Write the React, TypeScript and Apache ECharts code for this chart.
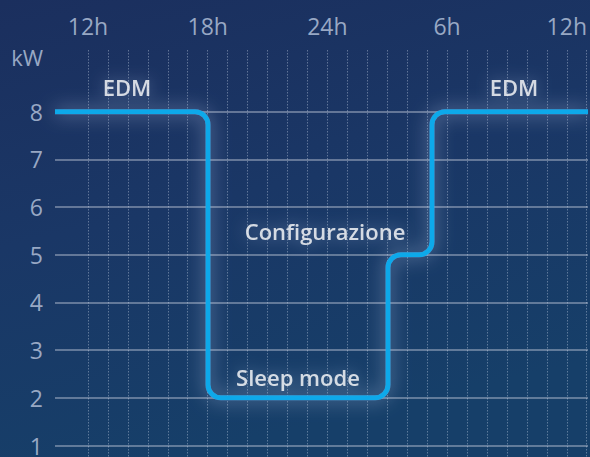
import React, { useEffect, useRef } from "react";
import * as echarts from "echarts";

// Top time axis
const hourTickValues = [0, 6, 12, 18, 24];
const hourTickLabels = ["12h", "18h", "24h", "6h", "12h"];

// Power axis ticks (kW)
const kwTicks = [1, 2, 3, 4, 5, 6, 7, 8];

// Power profile (hours after 12h, kW)
const profileHours = [-1.65, 6, 6, 15, 15, 17.2, 17.2, 25];
const profileKw = [8, 8, 2, 2, 5, 5, 8, 8];

// Annotations
const noteTexts = ["EDM", "Configurazione", "Sleep mode", "EDM"];
const noteHours = [1.95, 11.85, 10.5, 21.3];
const noteKw = [8.52, 5.5, 2.44, 8.52];

const FONT = "'Open Sans', Roboto, 'DejaVu Sans', sans-serif";

export default function App() {
  const ref = useRef<HTMLDivElement>(null);

  useEffect(() => {
    if (!ref.current) return;
    const chart = echarts.init(ref.current, null, { renderer: "svg" });

    const roundedPath = (pts: number[][], r: number) => {
      let d = `M${pts[0][0]},${pts[0][1]}`;
      for (let i = 1; i < pts.length - 1; i++) {
        const p = pts[i];
        const a = pts[i - 1];
        const b = pts[i + 1];
        const d1 = Math.hypot(p[0] - a[0], p[1] - a[1]);
        const d2 = Math.hypot(b[0] - p[0], b[1] - p[1]);
        if (d1 < 0.01 || d2 < 0.01) continue;
        const rr = Math.min(r, d1 / 2, d2 / 2);
        const s = [p[0] + ((a[0] - p[0]) / d1) * rr, p[1] + ((a[1] - p[1]) / d1) * rr];
        const e = [p[0] + ((b[0] - p[0]) / d2) * rr, p[1] + ((b[1] - p[1]) / d2) * rr];
        const k = 0.552;
        const c1 = [s[0] + (p[0] - s[0]) * k, s[1] + (p[1] - s[1]) * k];
        const c2 = [e[0] + (p[0] - e[0]) * k, e[1] + (p[1] - e[1]) * k];
        d += ` L${s[0]},${s[1]} C${c1[0]},${c1[1]} ${c2[0]},${c2[1]} ${e[0]},${e[1]}`;
      }
      const last = pts[pts.length - 1];
      d += ` L${last[0]},${last[1]}`;
      return d;
    };

    const option: any = {
      animation: false,
      backgroundColor: {
        type: "linear",
        x: 0,
        y: 0,
        x2: 0.3,
        y2: 1,
        colorStops: [
          { offset: 0, color: "#1b2f5e" },
          { offset: 0.5, color: "#1a3766" },
          { offset: 1, color: "#163f69" },
        ],
      },
      graphic: [
        {
          type: "text",
          x: 43,
          y: 57,
          style: {
            text: "kW",
            fill: "#98a8c4",
            font: `22px ${FONT}`,
            textAlign: "right",
            textVerticalAlign: "middle",
          },
        },
      ],
      grid: [
        { left: 55, right: 2, top: 64, bottom: 9 },
        { left: 88, right: 2, top: 50, bottom: 0 },
      ],
      xAxis: [
        {
          type: "value",
          gridIndex: 0,
          min: -1.65,
          max: 25,
          show: false,
        },
        {
          type: "value",
          gridIndex: 1,
          position: "top",
          min: 0,
          max: 25,
          interval: 1,
          axisLine: { show: false },
          axisTick: { show: false },
          axisLabel: {
            margin: 13,
            color: "#98a8c4",
            fontSize: 23,
            fontFamily: FONT,
            formatter: (v: number) => {
              const i = hourTickValues.indexOf(Math.round(v));
              return i >= 0 && Math.abs(v - Math.round(v)) < 1e-6 ? hourTickLabels[i] : "";
            },
          },
          splitLine: {
            show: true,
            lineStyle: { color: "rgba(210,220,240,0.38)", width: 1, type: [1.5, 1.5] },
          },
        },
      ],
      yAxis: [
        {
          type: "value",
          gridIndex: 0,
          min: kwTicks[0],
          max: kwTicks[kwTicks.length - 1] + 1,
          interval: 1,
          axisLine: { show: false },
          axisTick: { show: false },
          axisLabel: {
            margin: 12,
            color: "#98a8c4",
            fontSize: 23,
            fontFamily: FONT,
            formatter: (v: number) => (kwTicks.indexOf(v) >= 0 ? String(v) : ""),
          },
          splitLine: {
            show: true,
            showMaxLine: false,
            lineStyle: { color: "rgba(185,195,212,0.62)", width: 1.6 },
          },
        },
        {
          type: "value",
          gridIndex: 1,
          min: 0,
          max: 1,
          show: false,
        },
      ],
      series: [
        {
          type: "custom",
          xAxisIndex: 0,
          yAxisIndex: 0,
          clip: false,
          data: profileHours.map((h, i) => [h, profileKw[i]]),
          renderItem: (params: any, api: any) => {
            if (params.dataIndex !== 0) return null;
            const pts = profileHours.map((h, i) => api.coord([h, profileKw[i]]));
            return {
              type: "path",
              shape: { pathData: roundedPath(pts, 13) },
              style: {
                fill: "none",
                stroke: "#0aa9ea",
                lineWidth: 5,
                lineJoin: "round",
                shadowBlur: 18,
                shadowColor: "rgba(205,220,250,0.6)",
              },
            };
          },
        },
        {
          type: "scatter",
          xAxisIndex: 0,
          yAxisIndex: 0,
          symbolSize: 0,
          data: noteTexts.map((t, i) => ({ name: t, value: [noteHours[i], noteKw[i]] })),
          label: {
            show: true,
            position: "inside",
            formatter: "{b}",
            color: "#ffffff",
            fontSize: 22,
            fontWeight: 600,
            fontFamily: FONT,
            textShadowColor: "rgba(170,190,225,0.6)",
            textShadowBlur: 16,
          },
        },
      ],
    };

    chart.setOption(option);
    return () => chart.dispose();
  }, []);

  return (
    <div
      ref={ref}
      style={{ position: "fixed", left: 0, top: 0, width: 590, height: 457 }}
    />
  );
}
